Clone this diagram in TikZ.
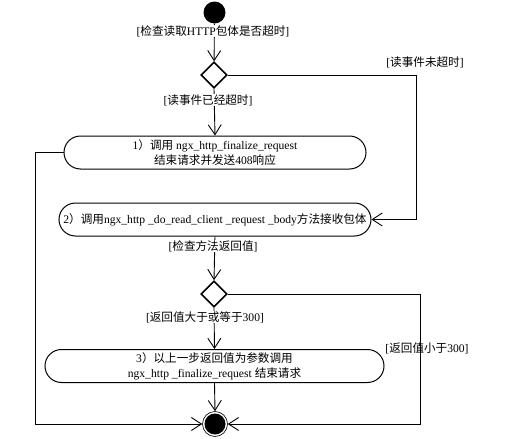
\documentclass[tikz,border=0pt]{standalone}
\usepackage{fontspec}
\setmainfont{Liberation Serif}
\newfontfamily\cjk{Noto Sans CJK SC}
\usetikzlibrary{arrows.meta}
\usetikzlibrary{shapes.geometric,shapes.misc}
\usetikzlibrary{positioning}

\begin{document}
\begin{tikzpicture}[x=1pt,y=-1pt,
    font=\fontsize{11.6}{15}\selectfont,
    flow/.style={line width=0.9pt,-{Straight Barb[length=10pt,width=13pt,line width=0.9pt]}},
    activity/.style={draw,line width=1pt,rounded rectangle,inner sep=1pt,align=center,minimum height=33pt},
    decision/.style={draw,line width=1.6pt,diamond,inner sep=0pt,minimum width=26pt,minimum height=26pt},
    guard/.style={fill=white,inner sep=0.5pt}]
    \useasboundingbox (0,0) rectangle (515,439);

    \node[circle,fill=black,minimum size=22pt,inner sep=0pt] at (214.5,12.5) (start) {};
    \node[decision] at (214,75) (check) {};

    \node[activity,minimum width=304pt] at (215,152.5) (finalize)
        {1{\cjk ）调用} ngx\_http\_finalize\_request\\{\cjk 结束请求并发送}408{\cjk 响应}};
    \node[activity,minimum width=314pt] at (215,219.5) (readbody)
        {2{\cjk ）调用}ngx\_http \_do\_read\_client \_request \_body{\cjk 方法接收包体}};

    \node[decision] at (214,294) (result) {};

    \node[activity,minimum width=341pt] at (214.5,366) (finish)
        {3{\cjk ）以上一步返回值为参数调用}\\ngx\_http \_finalize\_request {\cjk 结束请求}};

    \node[circle,draw,line width=0.6pt,minimum size=25pt,inner sep=0pt] at (215,424) (stop) {};
    \fill (stop.center) circle (10.5);

    \coordinate (right1) at (416,75);
    \coordinate (right2) at (420,424);
    \coordinate (left1) at (35,424);

    \draw[flow] (start) -- (check);
    \draw[flow] (check.east) -- (right1) |- (readbody.east);
    \draw[flow] (check.south) -- (finalize.north);
    \draw[flow] (finalize.west) -| (left1) -- (stop.west);
    \draw[flow] (readbody.south) -- (result.north);
    \draw[flow] (result.east) -| (right2) -- (stop.east);
    \draw[flow] (result.south) -- (finish.north);
    \draw[flow] (finish.south) -- (stop.north);

    % guard labels, most of them covering the flow lines
    \node[guard] at (213,31) (timeout) {[{\cjk 检查读取}HTTP{\cjk 包体是否超时}]};
    \node[guard] at (425,62) (notexpired) {[{\cjk 读事件未超时}]};
    \node[guard] at (208,100) (expired) {[{\cjk 读事件已经超时}]};
    \node[guard] at (213,246) (retcheck) {[{\cjk 检查方法返回值}]};
    \node[guard] at (205,317) (retbig) {[{\cjk 返回值大于或等于}300]};
    \node[guard,fill=none] at (427,348) (retsmall) {[{\cjk 返回值小于}300]};
\end{tikzpicture}
\end{document}
